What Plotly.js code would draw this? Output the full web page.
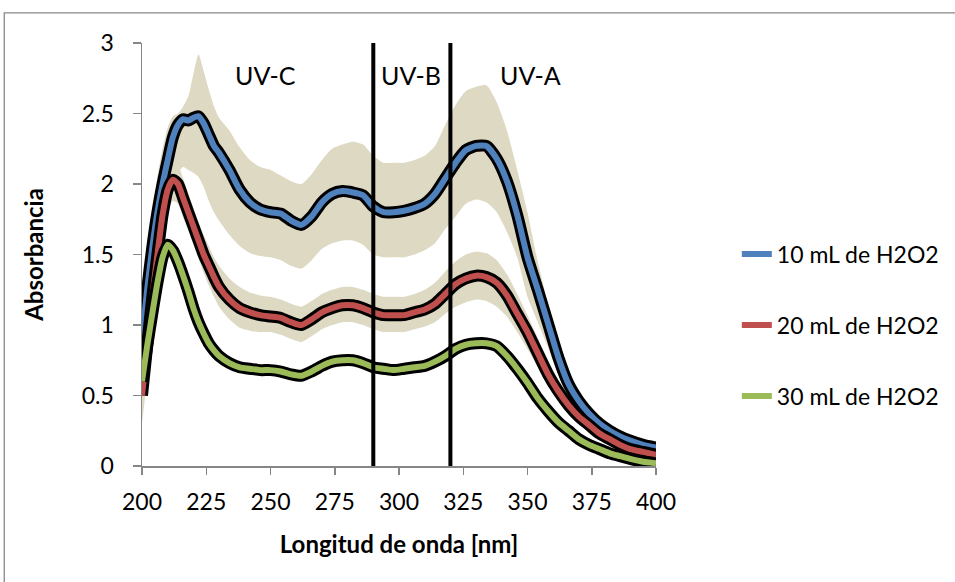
<!DOCTYPE html>
<html>
<head>
<meta charset="utf-8">
<script src="https://cdn.plot.ly/plotly-3.0.1.min.js"></script>
<style>html,body{margin:0;padding:0;background:#fff;}#chart{width:955px;height:582px;}</style>
</head>
<body>
<div id="chart"></div>
<script>
// Wavelength (nm)
const wavelength = [200,202,204,206,208,210,212,214,216,218,220,222,224,226,228,230,234,238,242,246,250,254,258,262,266,270,274,278,282,286,290,294,298,302,306,310,314,318,322,326,330,334,338,342,346,350,354,358,362,366,370,374,378,382,386,390,395,400];

// Mean absorbance series
const abs10 = [0.90,1.25,1.55,1.80,2.00,2.17,2.33,2.42,2.46,2.45,2.47,2.48,2.43,2.35,2.27,2.22,2.10,1.96,1.87,1.82,1.80,1.79,1.74,1.71,1.77,1.87,1.93,1.95,1.94,1.92,1.84,1.80,1.80,1.81,1.83,1.86,1.93,2.04,2.15,2.24,2.27,2.27,2.18,2.02,1.78,1.48,1.25,1.01,0.77,0.58,0.46,0.37,0.30,0.25,0.21,0.18,0.15,0.13];
const abs20 = [0.50,0.85,1.20,1.50,1.78,1.96,2.03,2.00,1.90,1.80,1.70,1.60,1.50,1.42,1.34,1.27,1.18,1.12,1.09,1.07,1.06,1.05,1.02,1.00,1.04,1.09,1.12,1.14,1.14,1.12,1.09,1.07,1.07,1.07,1.09,1.11,1.15,1.22,1.29,1.33,1.35,1.34,1.30,1.21,1.08,0.95,0.80,0.65,0.53,0.43,0.35,0.29,0.23,0.19,0.15,0.12,0.10,0.08];
const abs30 = [0.60,0.85,1.08,1.30,1.48,1.57,1.53,1.45,1.35,1.24,1.12,1.02,0.94,0.87,0.82,0.78,0.73,0.70,0.69,0.68,0.68,0.67,0.65,0.64,0.67,0.71,0.74,0.75,0.75,0.73,0.70,0.69,0.68,0.69,0.70,0.71,0.74,0.78,0.83,0.86,0.87,0.87,0.85,0.78,0.69,0.59,0.48,0.39,0.31,0.25,0.19,0.15,0.12,0.09,0.07,0.05,0.03,0.02];

// Dispersion bands (upper / lower)
const upper10 = [1.05,1.45,1.78,2.05,2.25,2.40,2.48,2.50,2.55,2.62,2.78,2.92,2.80,2.67,2.55,2.47,2.38,2.26,2.17,2.12,2.10,2.06,2.02,2.00,2.07,2.17,2.25,2.28,2.30,2.28,2.20,2.15,2.15,2.15,2.17,2.20,2.27,2.42,2.56,2.66,2.69,2.70,2.58,2.38,2.10,1.80,1.45,1.15,0.88,0.66,0.52,0.41,0.33,0.27,0.22,0.19,0.16,0.14];
const lower10 = [0.75,1.05,1.35,1.55,1.72,1.88,2.00,2.08,2.12,2.10,2.08,2.05,1.98,1.88,1.80,1.74,1.64,1.56,1.51,1.49,1.48,1.46,1.42,1.40,1.46,1.54,1.58,1.60,1.60,1.57,1.50,1.48,1.48,1.48,1.50,1.53,1.58,1.68,1.77,1.86,1.89,1.87,1.80,1.66,1.48,1.20,1.02,0.84,0.65,0.50,0.40,0.33,0.27,0.22,0.19,0.16,0.14,0.12];
const upper20 = [0.70,1.05,1.40,1.70,1.95,2.12,2.18,2.14,2.04,1.93,1.83,1.73,1.64,1.56,1.48,1.42,1.33,1.27,1.23,1.21,1.20,1.18,1.15,1.13,1.17,1.22,1.25,1.27,1.27,1.25,1.22,1.20,1.20,1.20,1.22,1.25,1.30,1.38,1.45,1.50,1.52,1.51,1.46,1.36,1.22,1.07,0.91,0.75,0.61,0.49,0.40,0.33,0.26,0.21,0.17,0.14,0.11,0.09];
const lower20 = [0.30,0.62,0.98,1.30,1.60,1.80,1.88,1.86,1.76,1.67,1.57,1.47,1.37,1.28,1.20,1.13,1.04,0.98,0.96,0.95,0.95,0.93,0.90,0.88,0.92,0.97,1.00,1.02,1.02,1.00,0.97,0.95,0.95,0.95,0.97,0.99,1.02,1.08,1.13,1.16,1.18,1.17,1.13,1.06,0.95,0.83,0.70,0.57,0.46,0.38,0.31,0.26,0.20,0.16,0.13,0.10,0.09,0.07];

const seriesNames = ["10 mL de H2O2","20 mL de H2O2","30 mL de H2O2"];
const seriesColors = ["#4F81BD","#C0504D","#9BBB59"];
const uvBounds = [290, 320];
const uvLabels = ["UV-C","UV-B","UV-A"];
const uvLabelX = [248, 304.5, 351];
const xTicks = [200,225,250,275,300,325,350,375,400];
const yTicks = [0,0.5,1,1.5,2,2.5,3];
const yTickText = ['0','0.5','1','1.5','2','2.5','3'];

const band = '#DDD9C3';
const FONT = 'Lato, "Open Sans", sans-serif';

const traces = [];
function addBand(lo, hi){
  traces.push({x: wavelength, y: lo, mode:'lines', line:{width:0, shape:'spline', smoothing:0.6}, showlegend:false, hoverinfo:'skip'});
  traces.push({x: wavelength, y: hi, mode:'lines', line:{width:0, shape:'spline', smoothing:0.6}, fill:'tonexty', fillcolor: band, showlegend:false, hoverinfo:'skip'});
}
addBand(lower10, upper10);
addBand(lower20, upper20);

const means = [abs10, abs20, abs30];
means.forEach((ys, i) => {
  traces.push({x: wavelength, y: ys, mode:'lines', line:{color:'#000', width:12, shape:'spline', smoothing:0.6}, showlegend:false, hoverinfo:'skip'});
  traces.push({x: wavelength, y: ys, mode:'lines', name: seriesNames[i], legendgroup:'g'+i, line:{color: seriesColors[i], width:6, shape:'spline', smoothing:0.6}});
});

const shapes = uvBounds.map(b => ({type:'line', xref:'x', yref:'y', x0:b, x1:b, y0:0, y1:3, line:{color:'#000', width:4}}));
shapes.push({type:'rect', xref:'paper', yref:'paper', x0:-0.268, x1:1.6, y0:-0.6, y1:1.071, line:{color:'#888', width:1.3}, fillcolor:'rgba(0,0,0,0)', layer:'below'});

const annotations = uvLabels.map((t, i) => ({x: uvLabelX[i], y: 2.77, xref:'x', yref:'y', text:t, showarrow:false, font:{family:FONT, size:25, color:'#000'}}));

const layout = {
  width:955, height:582,
  margin:{l:142, r:298, t:43, b:116},
  paper_bgcolor:'#fff', plot_bgcolor:'#fff',
  font:{family:FONT, color:'#000'},
  xaxis:{range:[200,400], tickvals:xTicks, ticktext:xTicks.map(String), showgrid:false, zeroline:false,
    showline:true, linecolor:'#868686', linewidth:1.5, ticks:'outside', ticklen:7, tickcolor:'#868686', tickwidth:1.5,
    ticklabelstandoff:8,
    tickfont:{family:FONT, size:23, color:'#000'},
    title:{text:'<b>Longitud de onda [nm]</b>', font:{family:FONT, size:24, color:'#000'}, standoff:22}},
  yaxis:{range:[0,3], tickvals:yTicks, ticktext:yTickText, showgrid:false, zeroline:false,
    showline:true, linecolor:'#868686', linewidth:1.5, ticks:'outside', ticklen:8, tickcolor:'#868686', tickwidth:1.5,
    ticklabelstandoff:14,
    tickfont:{family:FONT, size:23, color:'#000'},
    title:{text:'<b>Absorbancia</b>', font:{family:FONT, size:24, color:'#000'}, standoff:31}},
  showlegend:true,
  legend:{x:1.155, xanchor:'left', y:0.333, yanchor:'middle', traceorder:'grouped', tracegroupgap:38,
    font:{family:FONT, size:23, color:'#000'}, bgcolor:'rgba(0,0,0,0)'},
  shapes: shapes,
  annotations: annotations
};

Plotly.newPlot('chart', traces, layout, {displayModeBar:false, staticPlot:true});
</script>
</body>
</html>
